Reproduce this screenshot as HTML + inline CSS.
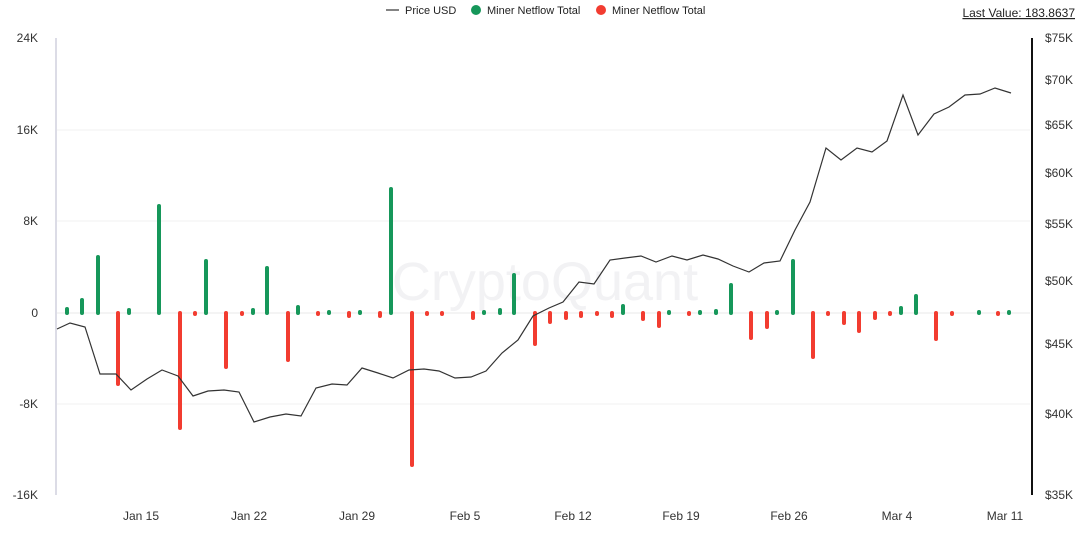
<!DOCTYPE html>
<html><head><meta charset="utf-8"><style>
body{margin:0;background:#fff;font-family:"Liberation Sans",sans-serif;}
</style></head><body>
<svg width="1080" height="530" xmlns="http://www.w3.org/2000/svg" font-family="Liberation Sans, sans-serif">
<rect width="1080" height="530" fill="#fff"/>
<g stroke="#f2f2f2" stroke-width="1">
<line x1="55" y1="130" x2="1030" y2="130"/><line x1="55" y1="221" x2="1030" y2="221"/><line x1="55" y1="404" x2="1030" y2="404"/>
</g>
<line x1="55" y1="313" x2="1030" y2="313" stroke="#e8e8e8"/>
<line x1="56" y1="38" x2="56" y2="495" stroke="#dcdce6" stroke-width="2"/>
<line x1="1032" y1="38" x2="1032" y2="495" stroke="#111" stroke-width="2"/>
<text x="545" y="300" font-size="54" fill="#f2f2f4" text-anchor="middle">CryptoQuant</text>
<g font-size="12" fill="#333" text-anchor="end">
<text x="38" y="42">24K</text><text x="38" y="134">16K</text><text x="38" y="225">8K</text><text x="38" y="317">0</text><text x="38" y="408">-8K</text><text x="38" y="499">-16K</text>
</g>
<g font-size="12" fill="#333" text-anchor="start">
<text x="1045" y="42">$75K</text><text x="1045" y="84">$70K</text><text x="1045" y="129">$65K</text><text x="1045" y="177">$60K</text><text x="1045" y="228">$55K</text><text x="1045" y="285">$50K</text><text x="1045" y="348">$45K</text><text x="1045" y="418">$40K</text><text x="1045" y="499">$35K</text>
</g>
<g font-size="12" fill="#333" text-anchor="middle">
<text x="141" y="520">Jan 15</text><text x="249" y="520">Jan 22</text><text x="357" y="520">Jan 29</text><text x="465" y="520">Feb 5</text><text x="573" y="520">Feb 12</text><text x="681" y="520">Feb 19</text><text x="789" y="520">Feb 26</text><text x="897" y="520">Mar 4</text><text x="1005" y="520">Mar 11</text>
</g>
<g stroke="#16975a" stroke-width="4" stroke-linecap="round">
<line x1="67" y1="313" x2="67" y2="309"/><line x1="82" y1="313" x2="82" y2="300"/><line x1="98" y1="313" x2="98" y2="257"/><line x1="129" y1="313" x2="129" y2="310"/><line x1="159" y1="313" x2="159" y2="206"/><line x1="206" y1="313" x2="206" y2="261"/><line x1="253" y1="313" x2="253" y2="310"/><line x1="267" y1="313" x2="267" y2="268"/><line x1="298" y1="313" x2="298" y2="307"/><line x1="329" y1="313" x2="329" y2="312"/><line x1="360" y1="313" x2="360" y2="312"/><line x1="391" y1="313" x2="391" y2="189"/><line x1="484" y1="313" x2="484" y2="312"/><line x1="500" y1="313" x2="500" y2="310"/><line x1="514" y1="313" x2="514" y2="275"/><line x1="623" y1="313" x2="623" y2="306"/><line x1="669" y1="313" x2="669" y2="312"/><line x1="700" y1="313" x2="700" y2="312"/><line x1="716" y1="313" x2="716" y2="311"/><line x1="731" y1="313" x2="731" y2="285"/><line x1="777" y1="313" x2="777" y2="312"/><line x1="793" y1="313" x2="793" y2="261"/><line x1="901" y1="313" x2="901" y2="308"/><line x1="916" y1="313" x2="916" y2="296"/><line x1="979" y1="313" x2="979" y2="312"/><line x1="1009" y1="313" x2="1009" y2="312"/>
</g>
<g stroke="#f23c30" stroke-width="4" stroke-linecap="round">
<line x1="118" y1="313" x2="118" y2="384"/><line x1="180" y1="313" x2="180" y2="428"/><line x1="195" y1="313" x2="195" y2="314"/><line x1="226" y1="313" x2="226" y2="367"/><line x1="242" y1="313" x2="242" y2="314"/><line x1="288" y1="313" x2="288" y2="360"/><line x1="318" y1="313" x2="318" y2="314"/><line x1="349" y1="313" x2="349" y2="316"/><line x1="380" y1="313" x2="380" y2="316"/><line x1="412" y1="313" x2="412" y2="465"/><line x1="427" y1="313" x2="427" y2="314"/><line x1="442" y1="313" x2="442" y2="314"/><line x1="473" y1="313" x2="473" y2="318"/><line x1="535" y1="313" x2="535" y2="344"/><line x1="550" y1="313" x2="550" y2="322"/><line x1="566" y1="313" x2="566" y2="318"/><line x1="581" y1="313" x2="581" y2="316"/><line x1="597" y1="313" x2="597" y2="314"/><line x1="612" y1="313" x2="612" y2="316"/><line x1="643" y1="313" x2="643" y2="319"/><line x1="659" y1="313" x2="659" y2="326"/><line x1="689" y1="313" x2="689" y2="314"/><line x1="751" y1="313" x2="751" y2="338"/><line x1="767" y1="313" x2="767" y2="327"/><line x1="813" y1="313" x2="813" y2="357"/><line x1="828" y1="313" x2="828" y2="314"/><line x1="844" y1="313" x2="844" y2="323"/><line x1="859" y1="313" x2="859" y2="331"/><line x1="875" y1="313" x2="875" y2="318"/><line x1="890" y1="313" x2="890" y2="314"/><line x1="936" y1="313" x2="936" y2="339"/><line x1="952" y1="313" x2="952" y2="314"/><line x1="998" y1="313" x2="998" y2="314"/>
</g>
<polyline fill="none" stroke="#333" stroke-width="1.2" points="57,329 70,323 85,327 100,374 116,374 131,390 147,379 162,370 178,376 193,396 208,391 224,390 239,392 254,422 270,417 286,414 301,416 316,388 332,384 347,385 362,368 378,373 393,378 409,370 424,369 439,371 455,378 471,377 486,371 502,353 518,340 533,316 549,308 563,302 579,282 594,284 610,260 625,258 641,256 656,262 672,256 687,260 703,255 718,259 733,266 749,272 764,263 780,261 795,230 810,202 826,148 841,160 857,148 872,152 887,141 903,95 918,135 934,114 949,107 965,95 980,94 995,88 1011,93"/>
<line x1="386" y1="10" x2="399" y2="10" stroke="#333" stroke-width="1.2"/>
<text x="405" y="14" font-size="11" fill="#222">Price USD</text>
<circle cx="476" cy="10" r="5" fill="#16975a"/>
<text x="487" y="14" font-size="11" fill="#222">Miner Netflow Total</text>
<circle cx="601" cy="10" r="5" fill="#f23c30"/>
<text x="612" y="14" font-size="11" fill="#222">Miner Netflow Total</text>
<text x="1075" y="17" font-size="12" fill="#222" text-anchor="end" text-decoration="underline">Last Value: 183.8637</text>
</svg>
</body></html>
